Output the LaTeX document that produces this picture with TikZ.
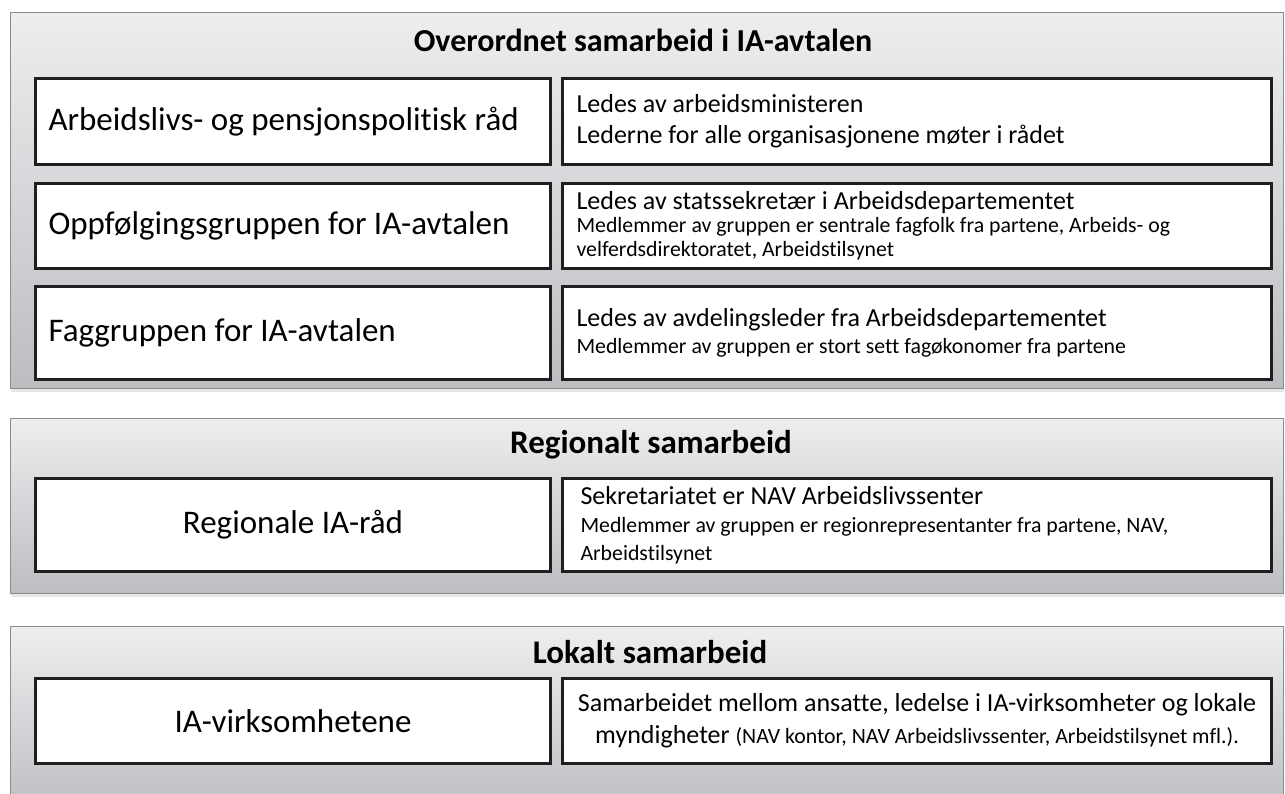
\documentclass[tikz,border=0pt]{standalone}
\usepackage{fontspec}
\setmainfont{Carlito}[Ligatures=NoCommon]
\usetikzlibrary{positioning,shadows}
\definecolor{panelTop}{HTML}{EEEEF0}
\definecolor{panelBot}{HTML}{BCBDC1}
\newcommand{\bigtxt}{\fontsize{26}{31}\selectfont\spaceskip=.226em\relax}
\newcommand{\smalltxt}{\fontsize{21.8}{25}\selectfont\spaceskip=.226em\relax}
\tikzset{
 panel/.style={draw=black!45, line width=1.2pt, top color=panelTop, bottom color=panelBot, anchor=north west, minimum width=1273pt, inner sep=0pt, drop shadow={shadow xshift=0pt, shadow yshift=-3pt, opacity=.2}},
 ptitle/.style={font=\fontsize{32}{36}\selectfont\bfseries},
 lbox/.style={draw=black!88, line width=3pt, fill=white, anchor=north west, minimum width=515pt, text width=489pt, inner xsep=13pt, align=left, font=\fontsize{33}{38}\selectfont, execute at begin node={\spaceskip=.226em\relax}},
 rbox/.style={draw=black!88, line width=3pt, fill=white, anchor=north west, minimum width=709pt, text width=681pt, inner xsep=14pt, align=left, font=\bigtxt, execute at begin node={\spaceskip=.226em\relax}}
}
\begin{document}
\begin{tikzpicture}[x=1pt,y=-1pt]
\useasboundingbox (0,0) rectangle (1285,794);
\clip (0,0) rectangle (1285,794);
% panels
\node[panel, minimum height=376pt] (over) at (10,12) {};
\node[panel, minimum height=175pt] (reg) at (10,418) {};
\node[panel, minimum height=190pt] (lok) at (10,626) {};
\node[ptitle] (overT) at (643,40) {Overordnet samarbeid i IA-avtalen};
\node[ptitle, font=\fontsize{33}{36}\selectfont\bfseries] (regT) at (651,445) {Regionalt samarbeid};
\node[ptitle, font=\fontsize{33}{36}\selectfont\bfseries] (lokT) at (650,652) {Lokalt samarbeid};
% overordnet
\node[lbox, minimum height=86pt] (apr) at (34,77) {Arbeidslivs- og pensjonspolitisk råd};
\node[rbox, minimum height=86pt] (aprR) at (561,77) {Ledes av arbeidsministeren\\
 Lederne for alle organisasjonene møter i rådet};
\node[lbox, minimum height=85pt] (opf) at (34,182) {Oppfølgingsgruppen for IA-avtalen};
\node[rbox, minimum height=85pt] (opfR) at (561,182) {Ledes av statssekretær i Arbeidsdepartementet\\[-2pt]
 {\smalltxt Medlemmer av gruppen er sentrale fagfolk fra partene, Arbeids- og\\[-7pt]
 velferdsdirektoratet, Arbeidstilsynet}};
\node[lbox, minimum height=93pt] (fag) at (34,285) {Faggruppen for IA-avtalen};
\node[rbox, minimum height=93pt] (fagR) at (561,285) {Ledes av avdelingsleder fra Arbeidsdepartementet\\[-4pt]
 {\smalltxt Medlemmer av gruppen er stort sett fagøkonomer fra partene}};
% regionalt
\node[lbox, align=center, minimum height=93pt] (ria) at (34,477) {Regionale IA-råd};
\node[rbox, minimum height=93pt, inner xsep=18pt, text width=673pt] (riaR) at (561,477) {Sekretariatet er NAV Arbeidslivssenter\\[3pt]
 {\smalltxt Medlemmer av gruppen er regionrepresentanter fra partene, NAV,\\[-3pt]
 Arbeidstilsynet}};
% lokalt
\node[lbox, align=center, minimum height=85pt] (iav) at (34,677) {IA-virksomhetene};
\node[rbox, align=center, minimum height=85pt, inner xsep=8pt, text width=693pt, font=\fontsize{26}{31}\selectfont] (iavR) at (561,677) {Samarbeidet mellom ansatte, ledelse i IA-virksomheter og lokale\\[1pt]
 myndigheter {\smalltxt (NAV kontor, NAV Arbeidslivssenter, Arbeidstilsynet mfl.).}};
\end{tikzpicture}
\end{document}
